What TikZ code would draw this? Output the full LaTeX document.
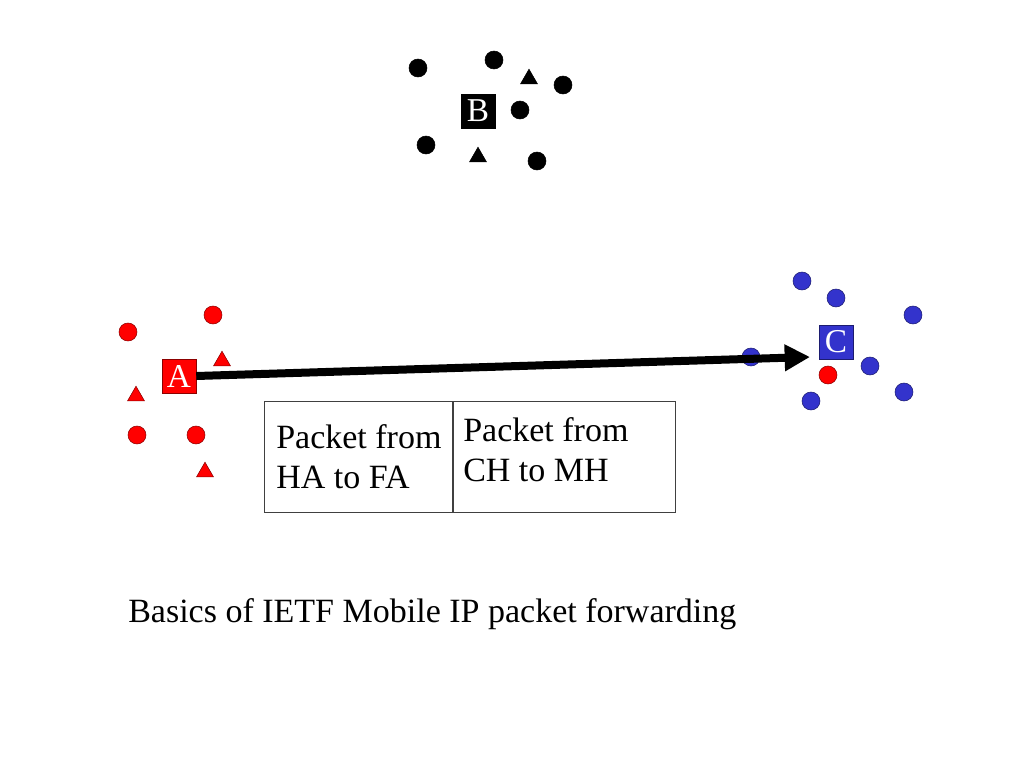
\documentclass[tikz,border=0pt]{standalone}
\usepackage{fontspec}
\setmainfont{Liberation Serif}
\usetikzlibrary{shapes.geometric,arrows.meta,positioning}
\definecolor{hostred}{RGB}{255,0,0}
\definecolor{hostblue}{RGB}{51,51,204}

\tikzset{
  host/.style={circle, inner sep=0pt, minimum size=13.5pt, thin, draw=#1!55!black, fill=#1},
  rtr/.style={regular polygon, regular polygon sides=3, inner sep=0pt, minimum size=14.7pt, thin, draw=#1!55!black, fill=#1},
  agent/.style={rectangle, inner sep=0pt, minimum size=25.5pt, thin, draw=#1!55!black, fill=#1, text=white, font=\fontsize{25}{30}\selectfont},
  cell/.style={rectangle, draw=black!75, thin, inner sep=0pt, minimum height=83.25pt},
  pkt/.style={inner sep=0pt, align=left, font=\fontsize{25.5}{30.4}\selectfont},
  flow/.style={line width=6pt, -{Triangle[length=19pt, width=19pt]}}
}

\begin{document}
\begin{tikzpicture}[x=0.75pt, y=-0.75pt]
  \useasboundingbox (0,0) rectangle (1024,768);

  \node[host=black] (b1) at (418,68) {};
  \node[host=black] (b2) at (494,60) {};
  \node[host=black] (b3) at (563,85) {};
  \node[host=black] (b4) at (520,110) {};
  \node[host=black] (b5) at (426,145) {};
  \node[host=black] (b6) at (537,161) {};
  \node[rtr=black]  (br1) at (529,79) {};
  \node[rtr=black]  (br2) at (478,157) {};
  \node[agent=black] (B) at (478,111) {B};

  \node[host=hostred] (a1) at (128,332) {};
  \node[host=hostred] (a2) at (213,315) {};
  \node[host=hostred] (a3) at (137,435) {};
  \node[host=hostred] (a4) at (196,435) {};
  \node[rtr=hostred]  (ar1) at (222,361) {};
  \node[rtr=hostred]  (ar2) at (136,396) {};
  \node[rtr=hostred]  (ar3) at (205,472) {};
  \node[agent=hostred] (A) at (179,376) {A};

  \node[host=hostblue] (c1) at (802,281) {};
  \node[host=hostblue] (c2) at (836,298) {};
  \node[host=hostblue] (c3) at (913,315) {};
  \node[host=hostblue] (c4) at (751,357) {};
  \node[host=hostblue] (c5) at (870,366) {};
  \node[host=hostblue] (c6) at (811,401) {};
  \node[host=hostblue] (c7) at (904,392) {};
  \node[host=hostred]  (mh) at (828,375) {};
  \node[agent=hostblue] (C) at (836,342) {C};

  \coordinate (tip) at (810,357);
  \draw[flow] (A.east) -- (tip);

  \node[cell, minimum width=141pt, anchor=north west] (hafa) at (264,401) {};
  \node[cell, minimum width=166.5pt, right=0pt of hafa] (chmh) {};
  \node[pkt, anchor=north west] (hafa text) at (276,424) {Packet from\\HA to FA};
  \node[pkt, anchor=north west] (chmh text) at (463,417) {Packet from\\CH to MH};

  \node[pkt, anchor=base west] (caption) at (128,622) {Basics of IETF Mobile IP packet forwarding};
\end{tikzpicture}
\end{document}
